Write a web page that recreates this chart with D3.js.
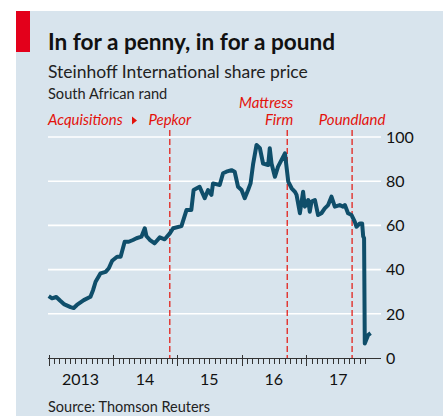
<!DOCTYPE html>
<html>
<head>
<meta charset="utf-8">
<script src="https://cdn.jsdelivr.net/npm/d3@7"></script>
<style>
  html, body { margin: 0; padding: 0; background: #fff; }
  svg { display: block; font-family: Lato, "Open Sans", sans-serif; }
</style>
</head>
<body>
<div id="chart"></div>
<script>
// Steinhoff share price, rand
const dates = [
  '2013-01-01','2013-01-20','2013-02-13','2013-03-06','2013-03-28','2013-05-05','2013-05-23','2013-06-10',
  '2013-07-19','2013-08-26','2013-09-10','2013-09-24','2013-10-22','2013-11-20','2013-12-08','2013-12-27',
  '2014-01-24','2014-02-13','2014-03-08','2014-03-31','2014-04-24','2014-05-14','2014-06-11','2014-06-30',
  '2014-07-09','2014-07-28','2014-08-25','2014-09-23','2014-10-21','2014-11-19','2014-12-08','2015-01-24',
  '2015-02-22','2015-03-21','2015-04-03','2015-05-07','2015-06-05','2015-06-24','2015-07-13','2015-07-22',
  '2015-08-29','2015-09-17','2015-10-06','2015-11-04','2015-11-22','2015-12-11','2015-12-31','2016-01-18',
  '2016-02-06','2016-02-20','2016-03-06','2016-03-25','2016-04-13','2016-05-01','2016-05-30','2016-06-08',
  '2016-06-18','2016-07-07','2016-07-25','2016-09-02','2016-09-21','2016-10-10','2016-10-29','2016-11-07',
  '2016-11-26','2016-12-14','2016-12-24','2017-01-12','2017-01-21','2017-01-31','2017-02-19','2017-03-09',
  '2017-03-28','2017-04-16','2017-05-05','2017-05-24','2017-06-12','2017-07-10','2017-07-29','2017-08-08',
  '2017-08-26','2017-09-15','2017-10-03','2017-10-13','2017-11-01','2017-11-14','2017-11-20','2017-11-25',
  '2017-11-29','2017-12-18','2018-01-01'
];
const prices = [
  28, 27, 27.6, 26, 24.4, 23, 22.6, 24,
  26.2, 27.7, 30.8, 34.5, 38.3, 39, 40.6, 44,
  45.8, 45.8, 52.6, 52.6, 53.4, 54.2, 54.9, 58.7,
  55.2, 53.5, 51.9, 54.6, 53.7, 56.4, 58.7, 59.7,
  67, 67, 76, 77.5, 72.3, 76, 73.8, 79,
  78.3, 83.6, 84.3, 85, 84.3, 77.5, 76, 72.3,
  76, 79, 88, 96.4, 94.9, 88, 87.3, 94.9,
  88, 82, 86.6, 92.6, 79.8, 76.8, 75.2, 73.8,
  65.5, 75.2, 68.5, 71.5, 66.2, 70.8, 71.5, 64.7,
  65.5, 67.7, 69.2, 73, 68.5, 69.2, 68.5, 69.2,
  65.5, 64.7, 61.7, 59.4, 60.9, 60.9, 55, 54.2,
  6.6, 10.4, 11.2
];

// acquisitions marked with dashed lines
const eventNames = ['Pepkor', 'Mattress Firm', 'Poundland'];
const eventDates = ['2014-11-19', '2016-09-15', '2017-09-18'];

const yTicks = [0, 20, 40, 60, 80, 100];
const yearLabels = ['2013', '14', '15', '16', '17'];

const title = 'In for a penny, in for a pound';
const subtitle = 'Steinhoff International share price';
const unit = 'South African rand';
const source = 'Source: Thomson Reuters';

const red = '#e3120b';
const w = 443, h = 416;
const parse = d3.timeParse('%Y-%m-%d');
const data = dates.map((d, i) => ({ date: parse(d), value: prices[i] }));

const svg = d3.select('#chart').append('svg')
  .attr('width', w)
  .attr('height', h);

// panel background + red tag
svg.append('rect').attr('x', 16).attr('y', 11).attr('width', w - 16).attr('height', h - 11).attr('fill', '#d8e4ed');
svg.append('rect').attr('x', 16).attr('y', 11).attr('width', 14).attr('height', 41).attr('fill', '#e3001b');

svg.append('text').attr('x', 48).attr('y', 50)
  .attr('font-size', '22.6px').attr('font-weight', 700).attr('fill', '#111')
  .text(title);
svg.append('text').attr('x', 48).attr('y', 78)
  .attr('font-size', '17.5px').attr('fill', '#222')
  .text(subtitle);
svg.append('text').attr('x', 48).attr('y', 99)
  .attr('font-size', '14.6px').attr('fill', '#222')
  .text(unit);

// scales
const x = d3.scaleTime()
  .domain([new Date(2013, 0, 1), new Date(2018, 2, 1)])
  .range([48.7, 381]);
const y = d3.scaleLinear()
  .domain([0, 100])
  .range([358, 137]);

// gridlines
svg.append('g').selectAll('line')
  .data(yTicks.filter(d => d > 0))
  .enter().append('line')
  .attr('x1', 48).attr('x2', 381)
  .attr('y1', d => y(d)).attr('y2', d => y(d))
  .attr('stroke', '#fff').attr('stroke-width', 1.6);

// y labels on the right
svg.append('g').selectAll('text')
  .data(yTicks)
  .enter().append('text')
  .attr('x', 386)
  .attr('y', d => y(d))
  .attr('dy', '0.36em')
  .attr('font-size', '16px').attr('fill', '#111')
  .text(d => d);

// event lines
const events = eventNames.map((n, i) => ({ name: n, date: parse(eventDates[i]) }));
svg.append('g').selectAll('line')
  .data(events)
  .enter().append('line')
  .attr('x1', d => x(d.date)).attr('x2', d => x(d.date))
  .attr('y1', 130).attr('y2', 358)
  .attr('stroke', red).attr('stroke-width', 1.2)
  .attr('stroke-dasharray', '6,3');

// event labels
const lab = svg.append('g')
  .attr('font-size', '15px').attr('font-style', 'italic').attr('fill', red);
lab.append('text').attr('x', 48).attr('y', 125).text('Acquisitions');
lab.append('path').attr('d', 'M132,116.5 L137,120.5 L132,124.5 Z').attr('fill', red);
lab.append('text').attr('x', x(events[0].date)).attr('y', 125).attr('text-anchor', 'middle').text('Pepkor');
lab.append('text').attr('x', x(events[1].date) + 6).attr('y', 108).attr('text-anchor', 'end').text('Mattress');
lab.append('text').attr('x', x(events[1].date) + 6).attr('y', 125).attr('text-anchor', 'end').text('Firm');
lab.append('text').attr('x', x(events[2].date)).attr('y', 125).attr('text-anchor', 'middle').text('Poundland');

// price line
const line = d3.line()
  .x(d => x(d.date))
  .y(d => y(d.value));
svg.append('path')
  .datum(data)
  .attr('d', line)
  .attr('fill', 'none')
  .attr('stroke', '#0f4e6a')
  .attr('stroke-width', 4)
  .attr('stroke-linejoin', 'round');

// x axis: line, monthly minor ticks, yearly major ticks
const ax = svg.append('g');
ax.append('line').attr('x1', 48).attr('x2', 381).attr('y1', 358.5).attr('y2', 358.5)
  .attr('stroke', '#333').attr('stroke-width', 1.2);
const months = d3.timeMonth.range(new Date(2013, 0, 1), new Date(2018, 0, 1));
ax.selectAll('line.tick')
  .data(months)
  .enter().append('line')
  .attr('x1', d => Math.round(x(d)) + 0.5).attr('x2', d => Math.round(x(d)) + 0.5)
  .attr('y1', d => d.getMonth() === 0 ? 355 : 358.5)
  .attr('y2', d => d.getMonth() === 0 ? 366 : 364)
  .attr('stroke', '#333').attr('stroke-width', 1);

const years = d3.timeYear.range(new Date(2013, 0, 1), new Date(2018, 0, 1));
ax.selectAll('text')
  .data(years)
  .enter().append('text')
  .attr('x', d => x(d3.timeMonth.offset(d, 6)))
  .attr('y', 385)
  .attr('text-anchor', 'middle')
  .attr('font-size', '16px').attr('fill', '#111')
  .text((d, i) => yearLabels[i]);

svg.append('text').attr('x', 48).attr('y', 412)
  .attr('font-size', '14.5px').attr('fill', '#222')
  .text(source);
</script>
</body>
</html>
